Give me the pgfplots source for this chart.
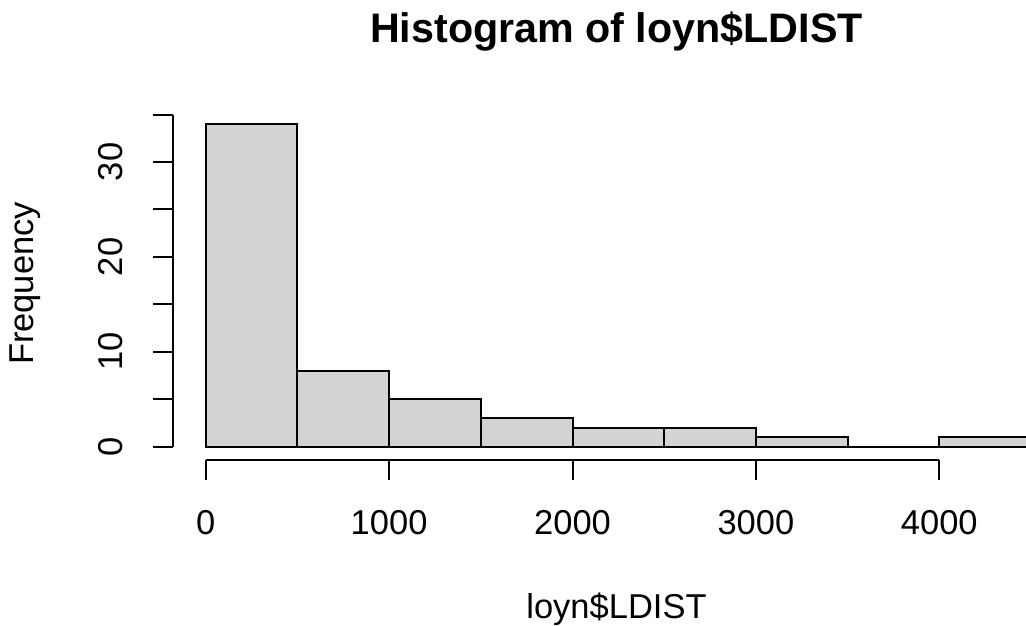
\documentclass[border=0pt]{standalone}
\usepackage{fontspec}
\setmainfont{Liberation Sans}
\usepackage{pgfplots}
\pgfplotsset{compat=1.18}
\definecolor{rgray}{HTML}{D3D3D3}
\newcommand{\tickfont}{\fontsize{13.8}{16}\selectfont}
\begin{document}
\begin{tikzpicture}
\begin{axis}[
  name=main,
  width=410.4pt, height=250.4pt, scale only axis,
  xmin=-1121.6, xmax=4472.7, ymin=-18.89, ymax=47.07,
  enlargelimits=false,
  hide axis, clip mode=individual,
]
\addplot[ybar interval, fill=rgray, draw=black, line width=0.8pt] coordinates {
  (0,34) (500,8) (1000,5) (1500,3) (2000,2) (2500,2) (3000,1) (3500,0) (4000,1) (4500,0)
};
% y axis
\draw[line width=0.8pt] (axis cs:-180,0) -- (axis cs:-180,35);
\pgfplotsinvokeforeach{0,5,10,15,20,25,30,35}{
  \draw[line width=0.8pt] (axis cs:-180,#1) -- (axis cs:-290,#1);
}
\pgfplotsinvokeforeach{0,10,20,30}{
  \node[rotate=90, anchor=base, inner sep=0pt] at (axis cs:-451,#1) {\tickfont #1};
}
% x axis
\draw[line width=0.8pt] (axis cs:0,-1.36) -- (axis cs:4000,-1.36);
\pgfplotsinvokeforeach{0,1000,2000,3000,4000}{
  \draw[line width=0.8pt] (axis cs:#1,-1.36) -- (axis cs:#1,-3.5);
  \node[anchor=base, inner sep=0pt] at (axis cs:#1,-9.30) {\tickfont #1};
}
% labels
\node[anchor=base, inner sep=0pt] at (axis cs:2240,-18.05) {\tickfont loyn\$LDIST};
\node[rotate=90, anchor=base, inner sep=0pt] at (axis cs:-941.6,17.2) {\tickfont Frequency};
\node[anchor=base, inner sep=0pt] at (axis cs:2240,42.54) {\fontsize{16.5}{20}\selectfont\bfseries Histogram of loyn\$LDIST};
\end{axis}
\pgfresetboundingbox
\path[use as bounding box] (main.south west) rectangle (main.north east);
\end{tikzpicture}
\end{document}
